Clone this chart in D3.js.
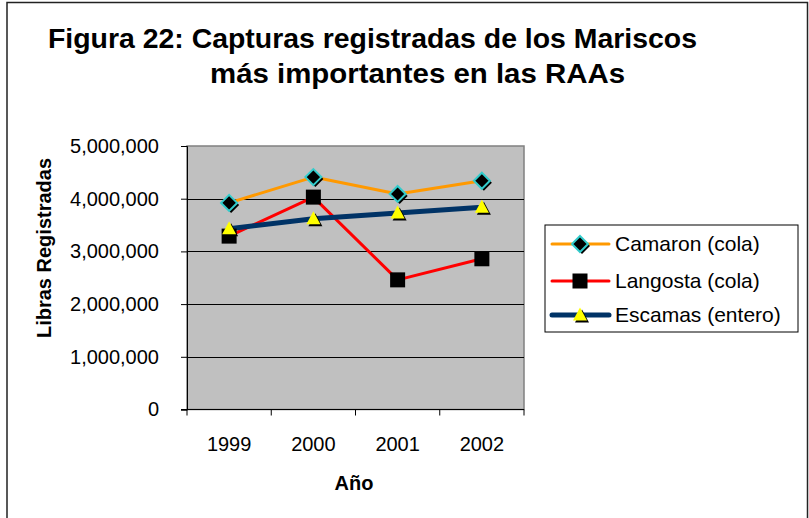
<!DOCTYPE html>
<html>
<head>
<meta charset="utf-8">
<script src="https://cdn.jsdelivr.net/npm/d3@7"></script>
<style>
  body { margin: 0; background: #fff; }
  svg { display: block; font-family: Arial, "Liberation Sans", sans-serif; }
</style>
</head>
<body>
<svg id="chart" width="809" height="518"></svg>
<script>
// data
let years = ["1999", "2000", "2001", "2002"]
let camaron = [3920000, 4410000, 4090000, 4340000]
let langosta = [3290000, 4030000, 2460000, 2860000]
let escamas = [3430000, 3620000, 3730000, 3840000]
let yTicks = [0, 1000000, 2000000, 3000000, 4000000, 5000000]

let series = [
  {name: "Camaron (cola)", values: camaron, color: "#FF9900", width: 3, marker: "diamond"},
  {name: "Langosta (cola)", values: langosta, color: "#FF0000", width: 3, marker: "square"},
  {name: "Escamas (entero)", values: escamas, color: "#003366", width: 5, marker: "triangle"}
]

let svg = d3.select("#chart")

// outer frame
svg.append("rect")
   .attr("x", 7).attr("y", 2.5)
   .attr("width", 800.5).attr("height", 530)
   .attr("fill", "none").attr("stroke", "#222").attr("stroke-width", 1.5)

let plot = {left: 187, right: 524, top: 146, bottom: 409.5}

let x = d3.scaleBand().domain(years).range([plot.left, plot.right])
let y = d3.scaleLinear().domain([0, 5000000]).range([plot.bottom, plot.top])

// plot background
svg.append("rect")
   .attr("x", plot.left).attr("y", plot.top)
   .attr("width", plot.right - plot.left).attr("height", plot.bottom - plot.top)
   .attr("fill", "#C0C0C0").attr("stroke", "#808080").attr("stroke-width", 1.5)

// gridlines
svg.append("g").selectAll("line")
   .data(yTicks.slice(1, -1))
   .enter().append("line")
   .attr("x1", plot.left).attr("x2", plot.right)
   .attr("y1", d => Math.round(y(d)) + 0.5).attr("y2", d => Math.round(y(d)) + 0.5)
   .attr("stroke", "#000").attr("stroke-width", 1)

// y axis
let yAxis = svg.append("g")
   .attr("transform", `translate(${plot.left},0)`)
   .call(d3.axisLeft(y).tickValues(yTicks).tickSize(6).tickPadding(22).tickFormat(d3.format(",")))
yAxis.select(".domain").attr("stroke", "#000")
yAxis.selectAll(".tick line").attr("stroke", "#000")
yAxis.selectAll("text").attr("font-size", 20).attr("fill", "#000")
   .attr("font-family", "Arial, 'Liberation Sans', sans-serif")

// x axis: labels at band centers, ticks at band edges
let xAxis = svg.append("g")
   .attr("transform", `translate(0,${plot.bottom})`)
   .call(d3.axisBottom(x).tickSize(0).tickPadding(27))
xAxis.select(".domain").remove()
xAxis.selectAll("text").attr("font-size", 20).attr("fill", "#000")
   .attr("font-family", "Arial, 'Liberation Sans', sans-serif")

svg.append("line")
   .attr("x1", plot.left - 6).attr("x2", plot.right)
   .attr("y1", plot.bottom).attr("y2", plot.bottom)
   .attr("stroke", "#000")
let edges = years.map(d => x(d)).concat([plot.right])
svg.append("g").selectAll("line")
   .data(edges)
   .enter().append("line")
   .attr("x1", d => d).attr("x2", d => d)
   .attr("y1", plot.bottom).attr("y2", plot.bottom + 6)
   .attr("stroke", "#000")

// axis titles
svg.append("text")
   .attr("x", 354).attr("y", 490)
   .attr("text-anchor", "middle")
   .attr("font-size", 20).attr("font-weight", "bold")
   .text("Año")

svg.append("text")
   .attr("transform", "translate(51,248) rotate(-90)")
   .attr("text-anchor", "middle")
   .attr("font-size", 20).attr("font-weight", "bold")
   .text("Libras Registradas")

// title
svg.append("text")
   .attr("x", 48).attr("y", 48)
   .attr("font-size", 27.5).attr("font-weight", "bold")
   .attr("textLength", 649).attr("lengthAdjust", "spacingAndGlyphs")
   .text("Figura 22: Capturas registradas de los Mariscos")
svg.append("text")
   .attr("x", 210).attr("y", 83)
   .attr("font-size", 27.5).attr("font-weight", "bold")
   .attr("textLength", 415).attr("lengthAdjust", "spacingAndGlyphs")
   .text("más importantes en las RAAs")

// markers
let drawMarker = (g, type, cx, cy) => {
  if (type === "diamond") {
    let r = 8
    let pts = (ox, oy) => [[cx + ox, cy - r + oy], [cx + r + ox, cy + oy], [cx + ox, cy + r + oy], [cx - r + ox, cy + oy]].join(" ")
    g.append("polygon").attr("points", pts(2, 2)).attr("fill", "#000")
    g.append("polygon").attr("points", pts(0, 0))
     .attr("fill", "#000").attr("stroke", "#33CCCC").attr("stroke-width", 2)
  } else if (type === "square") {
    g.append("rect").attr("x", cx - 7.5).attr("y", cy - 7.5)
     .attr("width", 15).attr("height", 15).attr("fill", "#000")
  } else {
    let pts = (ox, oy) => [[cx + ox, cy - 7.5 + oy], [cx + 7 + ox, cy + 5.5 + oy], [cx - 7 + ox, cy + 5.5 + oy]].join(" ")
    g.append("polygon").attr("points", pts(2, 2)).attr("fill", "#000")
    g.append("polygon").attr("points", pts(0, 0)).attr("fill", "#FFFF00")
  }
}

let line = d3.line()
   .x((d, i) => x(years[i]) + x.bandwidth() / 2)
   .y(d => y(d))

series.forEach(s => {
  svg.append("path")
     .datum(s.values)
     .attr("d", line)
     .attr("fill", "none")
     .attr("stroke", s.color)
     .attr("stroke-width", s.width)
     .attr("stroke-linejoin", "round")
})
series.forEach(s => {
  let g = svg.append("g")
  s.values.forEach((v, i) => drawMarker(g, s.marker, x(years[i]) + x.bandwidth() / 2, y(v)))
})

// legend
let legend = svg.append("g")
legend.append("rect")
   .attr("x", 545).attr("y", 225)
   .attr("width", 253).attr("height", 107)
   .attr("fill", "#fff").attr("stroke", "#000")
let rowY = [244, 281, 315]
series.forEach((s, i) => {
  let g = legend.append("g")
  g.append("line")
   .attr("x1", 552).attr("x2", 609)
   .attr("y1", rowY[i]).attr("y2", rowY[i])
   .attr("stroke", s.color).attr("stroke-width", s.width)
   .attr("stroke-linecap", "round")
  drawMarker(g, s.marker, 580, rowY[i])
  g.append("text")
   .attr("x", 615).attr("y", rowY[i]).attr("dy", "0.35em")
   .attr("font-size", 21)
   .text(s.name)
})
</script>
</body>
</html>
